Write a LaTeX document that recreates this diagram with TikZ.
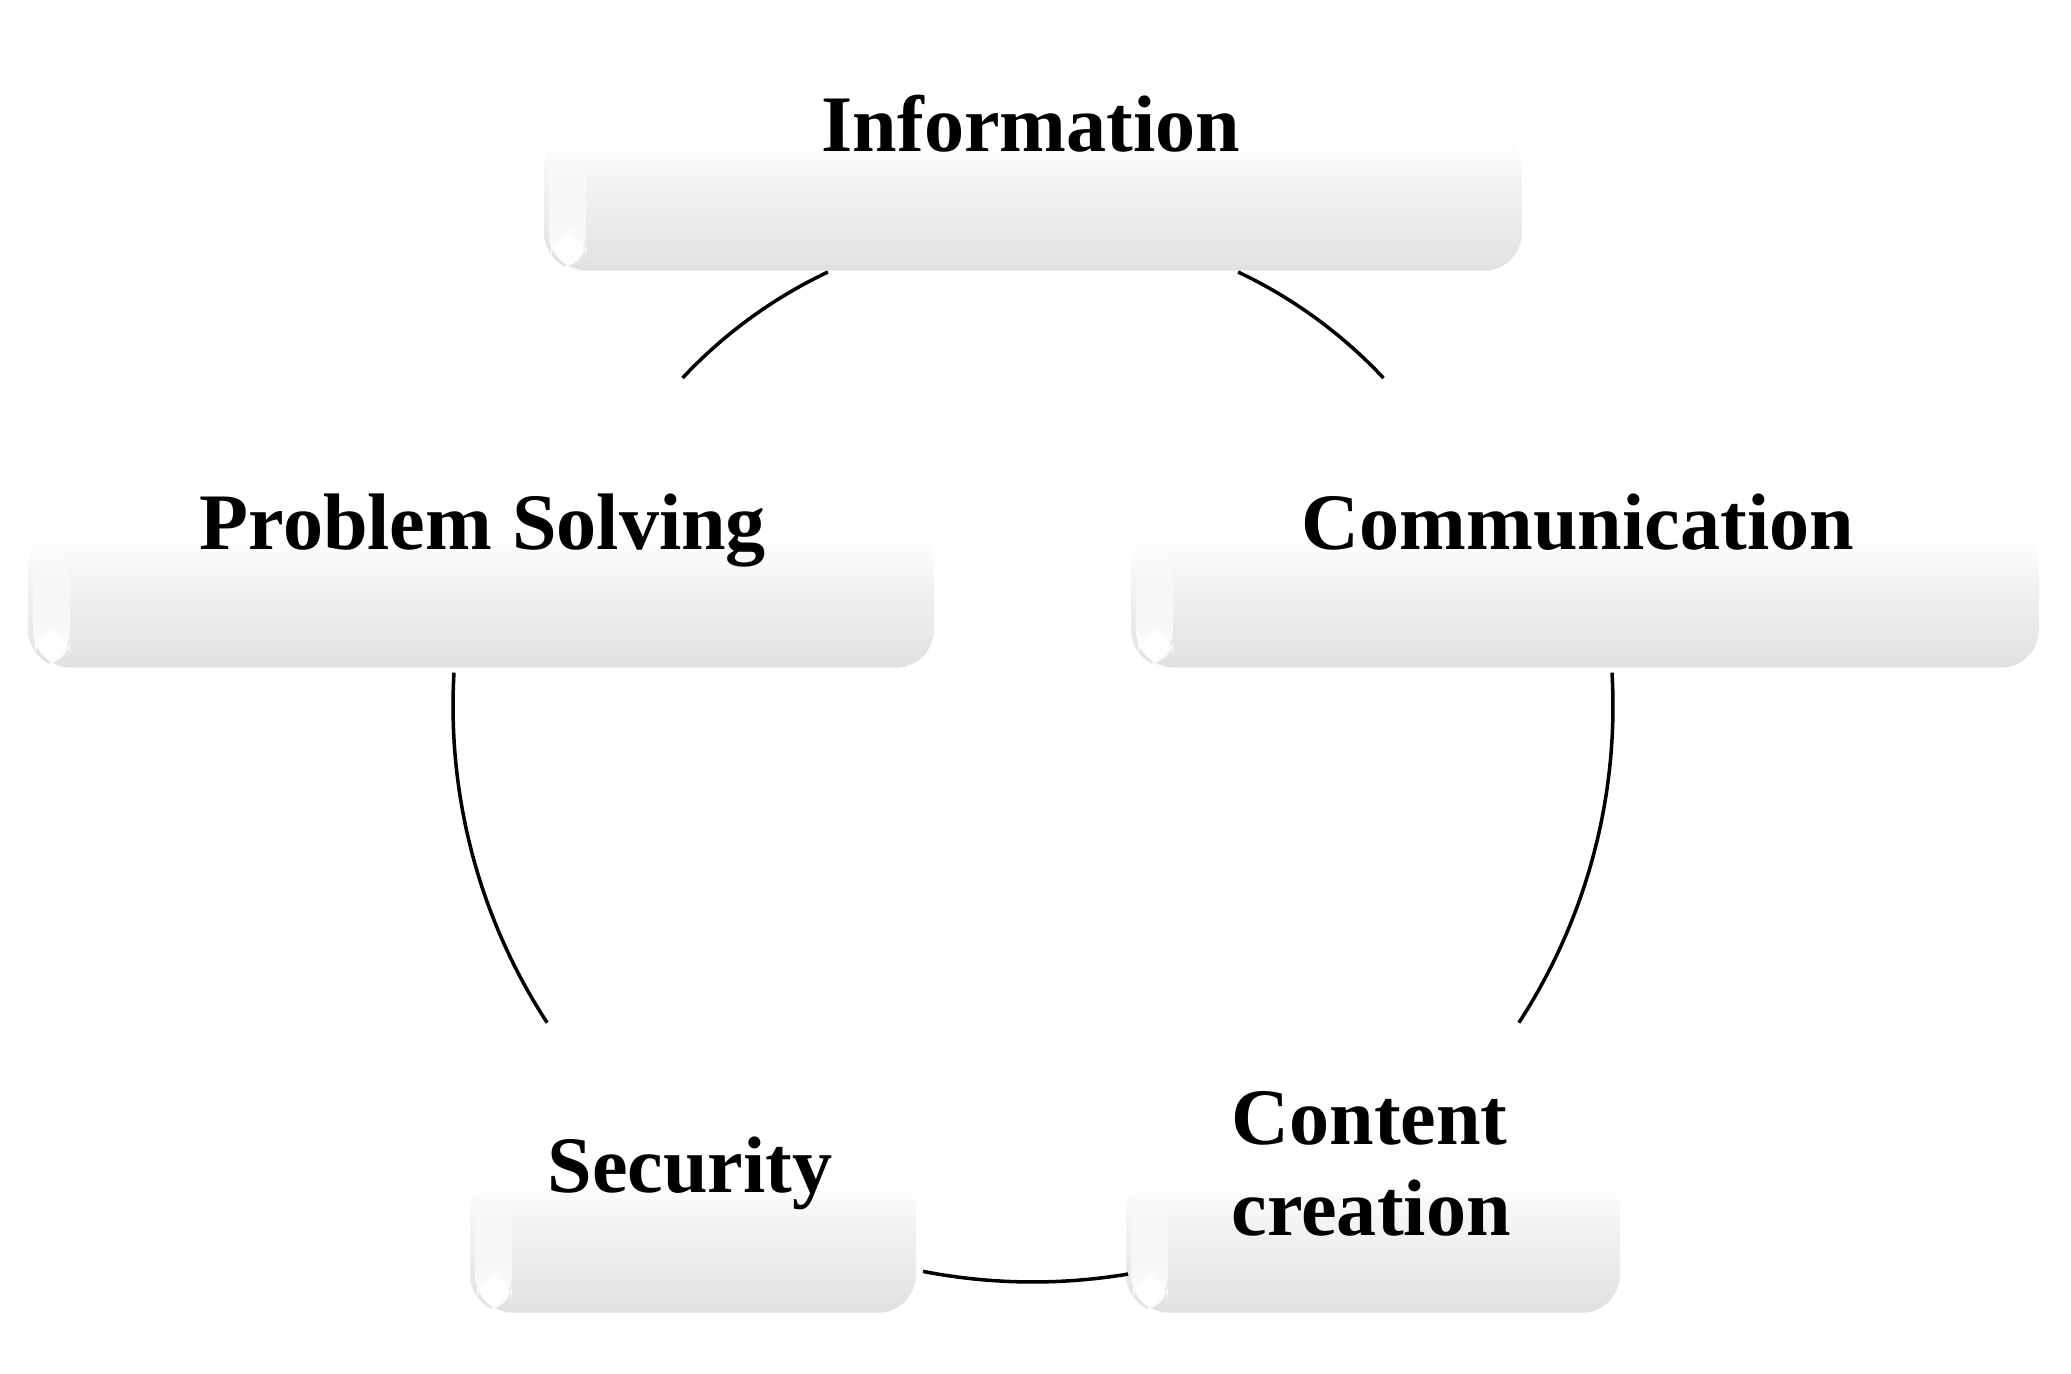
\documentclass[tikz,border=0pt]{standalone}
\usepackage{fontspec}
\setmainfont{Liberation Serif}
\usetikzlibrary{fadings}
\pgfdeclareverticalshading{cboxshade}{100bp}{color(0bp)=(black!12); color(25bp)=(black!12); color(33bp)=(black!10); color(55bp)=(black!5); color(72bp)=(white); color(100bp)=(white)}

\begin{document}
\begin{tikzpicture}[
    cbox/.style={rectangle, rounded corners=0.38cm, anchor=north, minimum height=1.40cm, inner sep=0pt,
        shading=cboxshade,
        path picture={
            \fill[white,path fading=north] ([xshift=0.05cm]path picture bounding box.south west) rectangle ([xshift=0.42cm]path picture bounding box.north west);
            \fill[white,opacity=0.85,rounded corners=0.3cm] ([xshift=0.07cm,yshift=0.04cm]path picture bounding box.south west) -- ++(0,0.36) -- ++(0.35,0) -- ++(0,-0.4) -- cycle;
        }},
    ctext/.style={font=\fontsize{22.8}{26}\selectfont\bfseries, inner sep=0pt},
    arcline/.style={line width=1pt, black}
]
    \useasboundingbox (0,0) rectangle (20.71,13.74);
    \coordinate (c) at (10.33,6.68);

    \node[cbox, minimum width=9.78cm] (infobox) at (10.33,12.44) {};
    \node[cbox, minimum width=9.06cm] (probbox) at (4.81,8.47) {};
    \node[cbox, minimum width=9.08cm] (commbox) at (15.85,8.47) {};
    \node[cbox, minimum width=4.46cm] (secbox) at (6.93,2.02) {};
    \node[cbox, minimum width=4.94cm] (contbox) at (13.73,2.02) {};

    \node[ctext, anchor=base] (info) at (10.31,12.22) {Information};
    \node[ctext, anchor=base] (prob) at (4.83,8.24) {Problem Solving};
    \node[ctext, anchor=base] (comm) at (15.78,8.24) {Communication};
    \node[ctext, anchor=base] (sec) at (6.90,1.81) {Security};
    \node[ctext, anchor=west, align=left] (cont) at (12.31,2.10) {Content\\creation};

    \draw[arcline] (c) ++(115.3:4.80) arc[start angle=115.3, end angle=136.9, radius=4.80];
    \draw[arcline] (c) ++(64.7:4.80) arc[start angle=64.7, end angle=43.1, radius=4.80];
    \draw[arcline] (c) ++(176.7:5.80) arc[start angle=176.7, end angle=213.1, radius=5.80];
    \draw[arcline] (c) ++(3.3:5.80) arc[start angle=3.3, end angle=-33.1, radius=5.80];
    \draw[arcline] (c) ++(259:5.76) arc[start angle=259, end angle=279.5, radius=5.76];
\end{tikzpicture}
\end{document}
